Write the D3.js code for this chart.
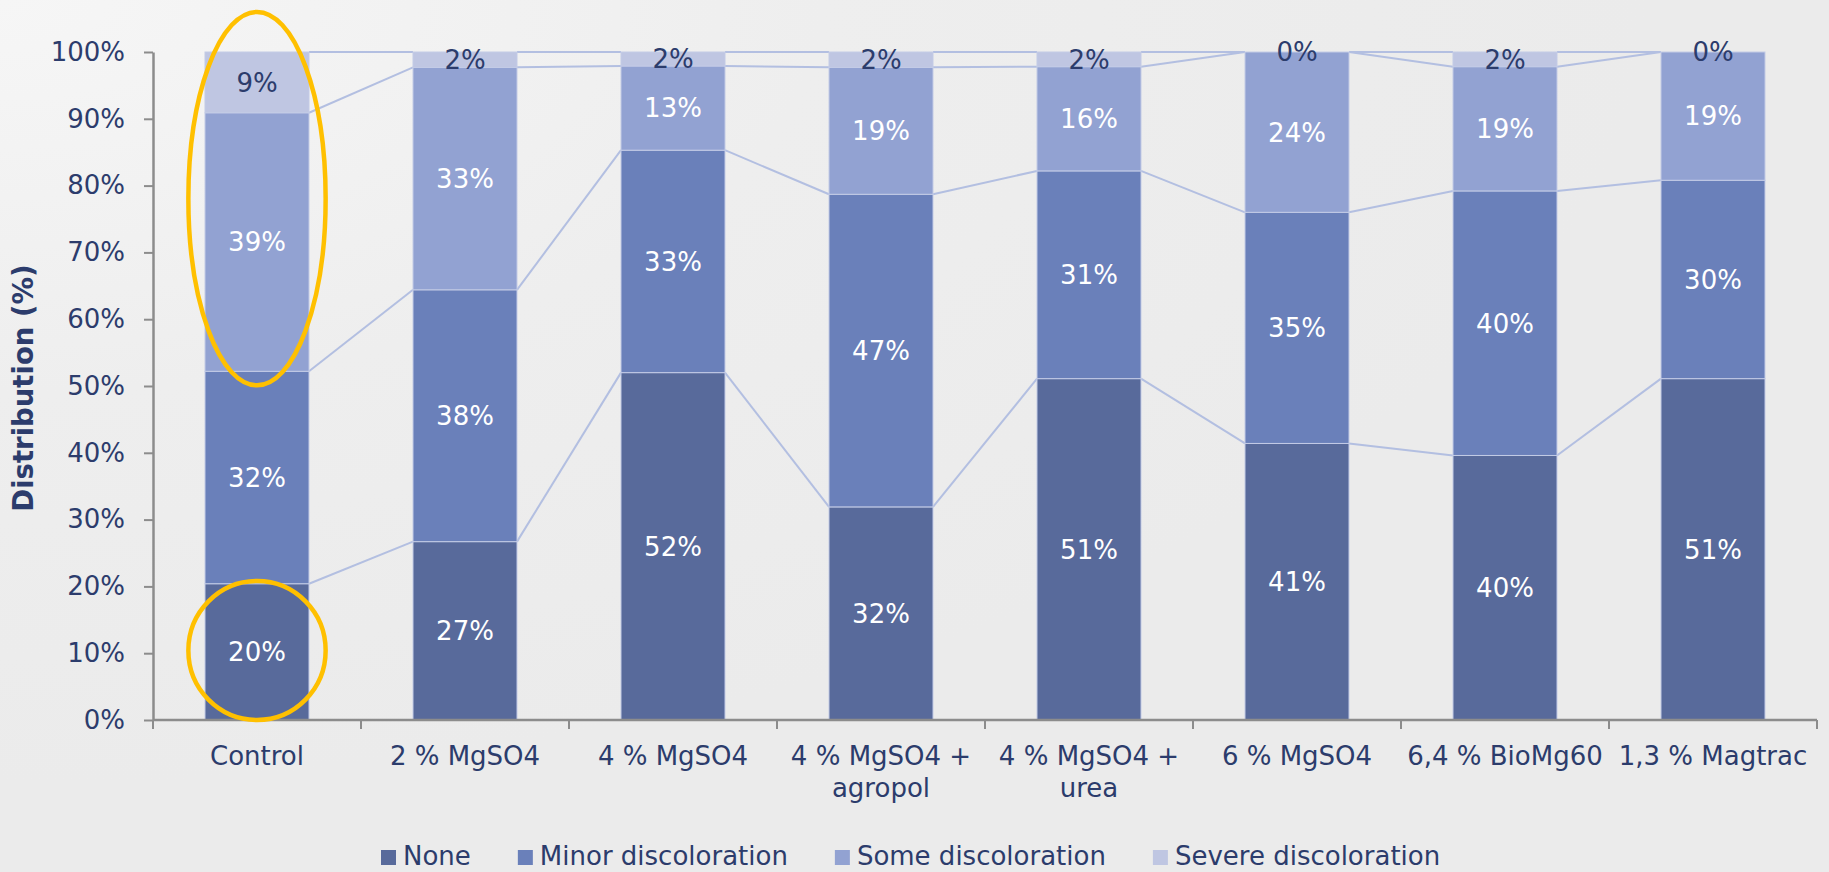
<!DOCTYPE html>
<html>
<head>
<meta charset="utf-8">
<script src="https://cdn.jsdelivr.net/npm/d3@7"></script>
<style>
  html, body { margin: 0; padding: 0; background: #ececec; }
  svg { display: block; font-family: "DejaVu Sans", Verdana, sans-serif; }
</style>
</head>
<body>
<div id="chart"></div>
<script>
// data (percent of samples)
const categories = ["Control", "2 % MgSO4", "4 % MgSO4", "4 % MgSO4 +\nagropol",
                    "4 % MgSO4 +\nurea", "6 % MgSO4", "6,4 % BioMg60", "1,3 % Magtrac"];
const seriesNames = ["None", "Minor discoloration", "Some discoloration", "Severe discoloration"];
const noneVals   = [20.4, 26.7, 52.0, 31.9, 51.1, 41.4, 39.6, 51.1];
const minorVals  = [31.8, 37.7, 33.3, 46.8, 31.1, 34.6, 39.6, 29.7];
const someVals   = [38.7, 33.3, 12.6, 19.0, 15.6, 24.0, 18.6, 19.2];
const severeVals = [9.1, 2.3, 2.1, 2.3, 2.2, 0, 2.2, 0];
const yTicks = [0, 10, 20, 30, 40, 50, 60, 70, 80, 90, 100];
// highlighted ranges on the Control bar (percent)
const highlights = [{ cat: "Control", lo: 50.1, hi: 106 }, { cat: "Control", lo: 0, hi: 20.8 }];

const chart = {
    width: 1829,
    height: 872,
    left: 153,
    right: 1817,
    top: 52,
    bottom: 720
};
const colors = ["#586a9b", "#6a80ba", "#92a2d2", "#bfc6e2"];
const textColor = "#2c3c6c";

let rows = categories.map((c, i) => ({
    cat: c,
    "None": noneVals[i],
    "Minor discoloration": minorVals[i],
    "Some discoloration": someVals[i],
    "Severe discoloration": severeVals[i]
}));
let stacked = d3.stack().keys(seriesNames)(rows);

let x = d3.scaleBand()
    .domain(categories)
    .range([chart.left, chart.right])
    .paddingInner(0.5)
    .paddingOuter(0.25);

let y = d3.scaleLinear()
    .domain([0, 100])
    .range([chart.bottom, chart.top]);

let svg = d3.select("#chart")
    .append("svg")
    .attr("width", chart.width)
    .attr("height", chart.height);

// soft background
let defs = svg.append("defs");
let grad = defs.append("radialGradient")
    .attr("id", "bg")
    .attr("cx", "0").attr("cy", "0").attr("r", "0.9");
grad.append("stop").attr("offset", "0").attr("stop-color", "#f6f6f6");
grad.append("stop").attr("offset", "0.5").attr("stop-color", "#eeeeee");
grad.append("stop").attr("offset", "1").attr("stop-color", "#ebebeb");
svg.append("rect")
    .attr("width", chart.width)
    .attr("height", chart.height)
    .attr("fill", "url(#bg)");

// connector lines between stacks
let lineG = svg.append("g").attr("id", "connectors");
stacked.forEach(s => {
    for (let i = 0; i < categories.length - 1; i++) {
        lineG.append("line")
            .attr("x1", x(categories[i]) + x.bandwidth())
            .attr("y1", y(s[i][1]))
            .attr("x2", x(categories[i + 1]))
            .attr("y2", y(s[i + 1][1]))
            .attr("stroke", "#b3bfe1")
            .attr("stroke-width", 2);
    }
});

// bars
let barG = svg.append("g").attr("id", "bars");
barG.selectAll("g")
    .data(stacked)
    .join("g")
        .attr("fill", (d, i) => colors[i])
    .selectAll("rect")
    .data(d => d)
    .join("rect")
        .attr("x", d => x(d.data.cat))
        .attr("y", d => y(d[1]))
        .attr("width", x.bandwidth())
        .attr("height", d => y(d[0]) - y(d[1]))
        .attr("stroke", "#c3cbe6")
        .attr("stroke-width", 1);

// value labels
let labelG = svg.append("g").attr("id", "labels");
stacked.forEach((s, si) => {
    labelG.selectAll(null)
        .data(s)
        .join("text")
            .attr("x", d => x(d.data.cat) + x.bandwidth() / 2)
            .attr("y", d => y((d[0] + d[1]) / 2))
            .attr("dy", "0.36em")
            .attr("text-anchor", "middle")
            .attr("font-size", 26)
            .attr("fill", si === 3 ? textColor : "#ffffff")
            .text(d => Math.round(d[1] - d[0]) + "%");
});

// y axis
let yAxis = d3.axisLeft(y)
    .tickValues(yTicks)
    .tickSize(9)
    .tickSizeOuter(0)
    .tickPadding(19)
    .tickFormat(d => d + "%");

let yG = svg.append("g")
    .attr("transform", `translate(${chart.left},0)`)
    .call(yAxis);
yG.select(".domain").attr("stroke", "#8c8c8c").attr("stroke-width", 2.5);
yG.selectAll(".tick line").attr("stroke", "#8c8c8c").attr("stroke-width", 2);
yG.selectAll(".tick text")
    .attr("font-size", 26)
    .attr("font-family", "DejaVu Sans")
    .attr("fill", textColor);

// x axis: ticks sit on the category boundaries
let xG = svg.append("g").attr("id", "x-axis");
xG.append("line")
    .attr("x1", chart.left).attr("x2", chart.right)
    .attr("y1", chart.bottom).attr("y2", chart.bottom)
    .attr("stroke", "#8c8c8c").attr("stroke-width", 2.5);
xG.selectAll(".xtick")
    .data(d3.range(categories.length + 1))
    .join("line")
        .attr("class", "xtick")
        .attr("x1", i => x.range()[0] + i * x.step())
        .attr("x2", i => x.range()[0] + i * x.step())
        .attr("y1", chart.bottom)
        .attr("y2", chart.bottom + 9)
        .attr("stroke", "#8c8c8c").attr("stroke-width", 2);

xG.selectAll(".xlabel")
    .data(categories)
    .join("text")
        .attr("class", "xlabel")
        .attr("x", d => x(d) + x.bandwidth() / 2)
        .attr("y", chart.bottom + 45)
        .attr("text-anchor", "middle")
        .attr("font-size", 26)
        .attr("fill", textColor)
    .each(function(d) {
        d.split("\n").forEach((part, k) => {
            d3.select(this).append("tspan")
                .attr("x", x(d) + x.bandwidth() / 2)
                .attr("dy", k === 0 ? 0 : 32)
                .text(part);
        });
    });

// y axis title
svg.append("text")
    .attr("transform", `translate(33,388) rotate(-90)`)
    .attr("text-anchor", "middle")
    .attr("font-size", 27.5)
    .attr("font-weight", "bold")
    .attr("fill", textColor)
    .text("Distribution (%)");

// highlight ellipses
svg.append("g")
    .selectAll("ellipse")
    .data(highlights)
    .join("ellipse")
        .attr("cx", d => x(d.cat) + x.bandwidth() / 2)
        .attr("cy", d => (y(d.lo) + y(d.hi)) / 2)
        .attr("rx", x.bandwidth() * 0.66)
        .attr("ry", d => (y(d.lo) - y(d.hi)) / 2)
        .attr("fill", "none")
        .attr("stroke", "#ffc000")
        .attr("stroke-width", 4.5);

// legend
let legend = svg.append("g").attr("id", "legend");
let lx = 381;
seriesNames.forEach((name, i) => {
    legend.append("rect")
        .attr("x", lx).attr("y", 850)
        .attr("width", 15).attr("height", 15)
        .attr("fill", colors[i]);
    let t = legend.append("text")
        .attr("x", lx + 22)
        .attr("y", 865)
        .attr("font-size", 26)
        .attr("fill", textColor)
        .text(name);
    lx += 22 + t.node().getComputedTextLength() + 47;
});
</script>
</body>
</html>
